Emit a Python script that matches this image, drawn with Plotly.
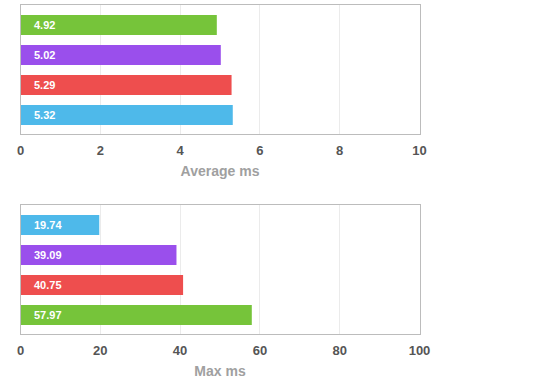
import plotly.graph_objects as go

# Data
avg_names = ["Green", "Purple", "Red", "Blue"]
avg_values = [4.92, 5.02, 5.29, 5.32]
avg_colors = ["#76C43A", "#9A4FEC", "#EE4E4E", "#4EB9EA"]

max_names = ["Blue", "Purple", "Red", "Green"]
max_values = [19.74, 39.09, 40.75, 57.97]
max_colors = ["#4EB9EA", "#9A4FEC", "#EE4E4E", "#76C43A"]

avg_ticks = [0, 2, 4, 6, 8, 10]
max_ticks = [0, 20, 40, 60, 80, 100]

W, H = 560, 390
FONT = "Liberation Sans, Arial, Helvetica, sans-serif"

fig = go.Figure()

fig.add_trace(go.Bar(x=avg_values, y=avg_names, orientation="h",
                     marker=dict(color=avg_colors, line=dict(width=0)),
                     xaxis="x", yaxis="y", hoverinfo="x+y", showlegend=False))
fig.add_trace(go.Bar(x=max_values, y=max_names, orientation="h",
                     marker=dict(color=max_colors, line=dict(width=0)),
                     xaxis="x2", yaxis="y2", hoverinfo="x+y", showlegend=False))

annotations = []
for xr, yr, names, vals in [("x", "y", avg_names, avg_values), ("x2", "y2", max_names, max_values)]:
    for n, v in zip(names, vals):
        annotations.append(dict(x=0, y=n, xref=xr, yref=yr, text=f"{v:.2f}",
                                showarrow=False, xanchor="left", yanchor="middle",
                                xshift=11, font=dict(family=FONT, size=11, color="white", weight="bold")))

xdom = [20.5 / W, 419.5 / W]

def xaxis_cfg(ticks, title, anchor):
    return dict(domain=xdom, range=[ticks[0], ticks[-1]], tickvals=ticks, anchor=anchor,
                showgrid=True, gridcolor="#ebebeb", gridwidth=1, zeroline=False,
                showline=True, mirror=True, linecolor="#bcbcbc", linewidth=1,
                ticks="", ticklabelstandoff=4, automargin=False,
                tickfont=dict(family=FONT, size=13, color="#555555", weight="bold"),
                title=dict(text=title, standoff=9,
                           font=dict(family=FONT, size=14, color="#a0a0a0", weight="bold")),
                fixedrange=True)

def yaxis_cfg(names, dom, anchor):
    return dict(domain=dom, type="category", categoryorder="array", categoryarray=names,
                range=[3.633, -0.667], showticklabels=False, ticks="", showgrid=False,
                zeroline=False, showline=True, mirror=True, linecolor="#bcbcbc", linewidth=1,
                anchor=anchor, fixedrange=True, automargin=False)

fig.update_layout(
    width=W, height=H, margin=dict(l=0, r=0, t=0, b=0, autoexpand=False),
    paper_bgcolor="white", plot_bgcolor="white",
    bargap=1 / 3,
    xaxis=xaxis_cfg(avg_ticks, "Average ms", "y"),
    yaxis=yaxis_cfg(avg_names, [1 - 134 / H, 1 - 5 / H], "x"),
    xaxis2=xaxis_cfg(max_ticks, "Max ms", "y2"),
    yaxis2=yaxis_cfg(max_names, [1 - 334 / H, 1 - 205 / H], "x2"),
    annotations=annotations,
    font=dict(family=FONT),
)

fig.write_html("out.html", config={"displayModeBar": False},
               post_script="document.body.style.margin='0';document.body.style.overflow='hidden';")
